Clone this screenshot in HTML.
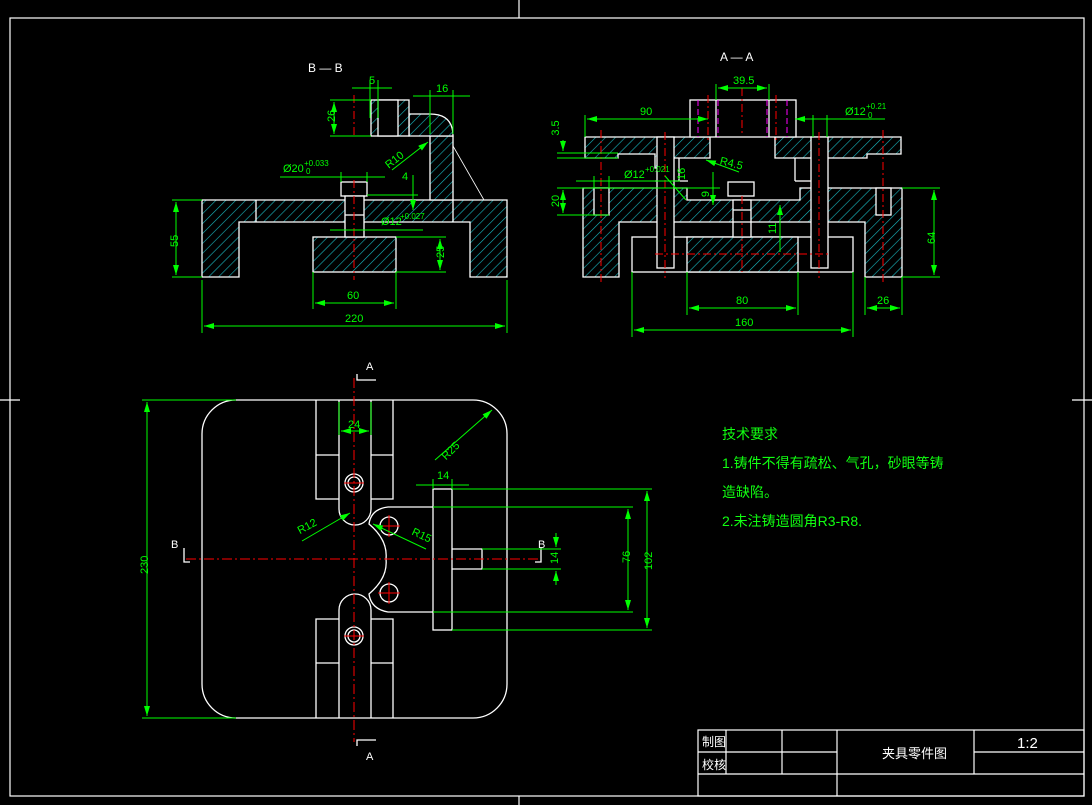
<!DOCTYPE html>
<html><head><meta charset="utf-8"><style>
html,body{margin:0;padding:0;background:#000;}
svg{display:block}
text{font-family:"Liberation Sans","Noto Sans CJK SC",sans-serif;}
</style></head><body>
<svg width="1092" height="805" viewBox="0 0 1092 805" xmlns="http://www.w3.org/2000/svg">
<defs>
<pattern id="h" width="7" height="7" patternUnits="userSpaceOnUse" patternTransform="rotate(45)">
<rect width="7" height="7" fill="#000"/><line x1="0" y1="0" x2="0" y2="7" stroke="#19b8c0" stroke-width="1.2"/>
</pattern>
<marker id="a" viewBox="0 0 10 6" refX="10" refY="3" markerWidth="10" markerHeight="6" orient="auto-start-reverse"><path d="M0,0L10,3L0,6z" fill="#0f0"/></marker>
</defs>
<rect width="1092" height="805" fill="#000"/>
<g stroke="#fff" stroke-width="1.2" fill="none">
<rect x="10" y="18" width="1074" height="778"/>
<line x1="519" y1="0" x2="519" y2="18"/><line x1="519" y1="796" x2="519" y2="805"/>
<line x1="0" y1="400" x2="20" y2="400"/><line x1="1072" y1="400" x2="1092" y2="400"/>
</g>
<g stroke="#fff" stroke-width="1.2" fill="none">
<rect x="698" y="730" width="386" height="66"/>
<line x1="698" y1="752" x2="837" y2="752"/><line x1="974" y1="752" x2="1084" y2="752"/>
<line x1="698" y1="774" x2="1084" y2="774"/>
<line x1="726" y1="730" x2="726" y2="774"/><line x1="782" y1="730" x2="782" y2="774"/>
<line x1="837" y1="730" x2="837" y2="796"/><line x1="974" y1="730" x2="974" y2="774"/>
</g>
<g fill="#fff" font-size="12">
<text x="702" y="746">制图</text><text x="702" y="769">校核</text>
<text x="882" y="758" font-size="13">夹具零件图</text>
<text x="1017" y="748" font-size="15">1:2</text>
</g>
<g fill="#1f1" font-size="14">
<text x="722" y="439">技术要求</text>
<text x="722" y="468">1.铸件不得有疏松、气孔，砂眼等铸</text>
<text x="722" y="497">造缺陷。</text>
<text x="722" y="526">2.未注铸造圆角R3-R8.</text>
</g>

<text x="308" y="72" fill="#fff" font-size="12">B — B</text>
<g stroke="#fff" stroke-width="1.3">
<path d="M202,200H507V277H470V222H239V277H202Z" fill="url(#h)"/>
<line x1="256" y1="200" x2="256" y2="222"/><line x1="453" y1="200" x2="453" y2="222"/>
<rect x="313" y="237" width="83" height="35" fill="url(#h)"/>
<rect x="430" y="136" width="23" height="64" fill="url(#h)"/>
<path d="M409,114H430Q453,114 453,136H409Z" fill="url(#h)"/>
<rect x="371" y="100" width="38" height="36" fill="url(#h)"/>
<rect x="378" y="100" width="20" height="36" fill="#000"/>
<rect x="341" y="182" width="26" height="14" fill="#000"/>
<rect x="345" y="196" width="19" height="41" fill="#000"/>
<line x1="345" y1="215" x2="364" y2="215"/>
<line x1="453" y1="146" x2="484" y2="200" stroke-width="0.8"/>
</g>
<line x1="354" y1="95" x2="354" y2="138" stroke="#f00" stroke-dasharray="8,3,2,3"/>
<line x1="354" y1="180" x2="354" y2="280" stroke="#f00" stroke-dasharray="8,3,2,3"/>
<g stroke="#0f0" stroke-width="1" fill="none">
<line x1="172" y1="200" x2="202" y2="200"/><line x1="172" y1="277" x2="202" y2="277"/>
<line x1="176" y1="202" x2="176" y2="275" marker-start="url(#a)" marker-end="url(#a)"/>
<line x1="202" y1="280" x2="202" y2="333"/><line x1="507" y1="280" x2="507" y2="333"/>
<line x1="204" y1="326" x2="505" y2="326" marker-start="url(#a)" marker-end="url(#a)"/>
<line x1="313" y1="272" x2="313" y2="309"/><line x1="396" y1="272" x2="396" y2="309"/>
<line x1="315" y1="303" x2="394" y2="303" marker-start="url(#a)" marker-end="url(#a)"/>
<line x1="396" y1="237" x2="446" y2="237"/><line x1="396" y1="272" x2="446" y2="272"/>
<line x1="440" y1="239" x2="440" y2="270" marker-start="url(#a)" marker-end="url(#a)"/>
<line x1="330" y1="100" x2="371" y2="100"/><line x1="330" y1="136" x2="371" y2="136"/>
<line x1="334" y1="102" x2="334" y2="134" marker-start="url(#a)" marker-end="url(#a)"/>
<line x1="352" y1="88" x2="392" y2="88"/><line x1="370" y1="80" x2="370" y2="118"/><line x1="378" y1="80" x2="378" y2="118"/>
<line x1="413" y1="96" x2="470" y2="96"/><line x1="430" y1="90" x2="430" y2="134"/><line x1="453" y1="90" x2="453" y2="134"/>
<line x1="392" y1="170" x2="428" y2="142" marker-end="url(#a)"/>
<line x1="280" y1="177" x2="385" y2="177"/><line x1="341" y1="172" x2="341" y2="182"/><line x1="367" y1="172" x2="367" y2="182"/>
<line x1="367" y1="195" x2="418" y2="195"/>
<line x1="413" y1="175" x2="413" y2="210" marker-end="url(#a)"/>
<line x1="330" y1="230" x2="423" y2="230"/>
</g>
<g fill="#0f0" font-size="11">
<text x="165" y="246" transform="rotate(-90 172 240)">55</text>
<text x="345" y="322">220</text><text x="347" y="299">60</text>
<text x="436" y="262" transform="rotate(-90 438 256)">25</text>
<text x="326" y="123" transform="rotate(-90 330 118)">26</text>
<text x="369" y="84">5</text><text x="436" y="92">16</text>
<text x="384" y="165" transform="rotate(-38 392 160)">R10</text>
<text x="283" y="172">Ø20</text><text x="304" y="166" font-size="8">+0.033</text><text x="306" y="174" font-size="8">0</text>
<text x="381" y="225">Ø12</text><text x="400" y="219" font-size="8">+0.027</text>
<text x="402" y="180">4</text>
</g>

<text x="720" y="61" fill="#fff" font-size="12">A — A</text>
<g stroke="#fff" stroke-width="1.3">
<path d="M583,188H687V200H800V188H902V277H865V222H619V277H583Z" fill="url(#h)"/>
<path d="M585,137H710V158H660V168H655V154H618V158H585Z" fill="url(#h)"/>
<path d="M775,137H901V154H867V158H775Z" fill="url(#h)"/>
<line x1="679" y1="158" x2="679" y2="181"/><line x1="655" y1="181" x2="688" y2="181"/>
<line x1="795" y1="158" x2="795" y2="181"/><line x1="795" y1="181" x2="811" y2="181"/>
<rect x="690" y="100" width="106" height="37" fill="#000"/>
<line x1="716" y1="100" x2="716" y2="137"/><line x1="769" y1="100" x2="769" y2="137"/>
<rect x="632" y="237" width="221" height="35" fill="#000"/>
<rect x="687" y="237" width="111" height="35" fill="url(#h)"/>
<rect x="657" y="137" width="17" height="131" fill="#000"/>
<rect x="811" y="137" width="17" height="131" fill="#000"/>
<rect x="594" y="188" width="15" height="27" fill="#000"/>
<rect x="876" y="188" width="15" height="27" fill="#000"/>
<rect x="728" y="182" width="26" height="14" fill="#000"/>
<rect x="733" y="200" width="18" height="37" fill="#000"/>
<line x1="733" y1="210" x2="751" y2="210"/><line x1="733" y1="222" x2="751" y2="222"/>
</g>
<g stroke="#f00" stroke-width="1" stroke-dasharray="8,3,2,3">
<line x1="601" y1="130" x2="601" y2="282"/><line x1="883" y1="130" x2="883" y2="282"/>
<line x1="665" y1="132" x2="665" y2="278"/><line x1="819" y1="132" x2="819" y2="278"/>
<line x1="742" y1="88" x2="742" y2="136"/><line x1="742" y1="196" x2="742" y2="272"/>
<line x1="708" y1="95" x2="708" y2="140"/><line x1="776" y1="95" x2="776" y2="140"/>
<line x1="655" y1="254" x2="830" y2="254"/>
</g>
<g stroke="#f0f" stroke-dasharray="6,3"><line x1="698" y1="100" x2="698" y2="137"/><line x1="718" y1="100" x2="718" y2="137"/><line x1="767" y1="100" x2="767" y2="137"/><line x1="787" y1="100" x2="787" y2="137"/></g>
<g stroke="#0f0" stroke-width="1" fill="none">
<line x1="902" y1="188" x2="940" y2="188"/><line x1="902" y1="277" x2="940" y2="277"/>
<line x1="934" y1="190" x2="934" y2="275" marker-start="url(#a)" marker-end="url(#a)"/>
<line x1="687" y1="272" x2="687" y2="315"/><line x1="798" y1="272" x2="798" y2="315"/>
<line x1="689" y1="308" x2="796" y2="308" marker-start="url(#a)" marker-end="url(#a)"/>
<line x1="632" y1="272" x2="632" y2="337"/><line x1="853" y1="272" x2="853" y2="337"/>
<line x1="634" y1="330" x2="851" y2="330" marker-start="url(#a)" marker-end="url(#a)"/>
<line x1="865" y1="277" x2="865" y2="315"/><line x1="902" y1="277" x2="902" y2="315"/>
<line x1="867" y1="308" x2="900" y2="308" marker-start="url(#a)" marker-end="url(#a)"/>
<line x1="716" y1="84" x2="716" y2="100"/><line x1="769" y1="84" x2="769" y2="100"/>
<line x1="718" y1="88" x2="767" y2="88" marker-start="url(#a)" marker-end="url(#a)"/>
<line x1="585" y1="115" x2="585" y2="137"/>
<line x1="587" y1="119" x2="708" y2="119" marker-start="url(#a)" marker-end="url(#a)"/>
<line x1="795" y1="119" x2="885" y2="119" marker-start="url(#a)"/>
<line x1="813" y1="115" x2="813" y2="137"/><line x1="827" y1="115" x2="827" y2="137"/>
<line x1="557" y1="153" x2="618" y2="153"/><line x1="557" y1="158" x2="618" y2="158"/>
<line x1="563" y1="140" x2="563" y2="151" marker-end="url(#a)"/>
<line x1="557" y1="188" x2="720" y2="188"/><line x1="557" y1="215" x2="609" y2="215"/>
<line x1="563" y1="190" x2="563" y2="213" marker-start="url(#a)" marker-end="url(#a)"/>
<line x1="576" y1="181" x2="680" y2="181"/><line x1="594" y1="176" x2="594" y2="188"/><line x1="609" y1="176" x2="609" y2="188"/>
<line x1="739" y1="172" x2="706" y2="160" marker-end="url(#a)"/>
<line x1="713" y1="172" x2="713" y2="205" marker-end="url(#a)"/>
<line x1="780" y1="205" x2="780" y2="252" marker-start="url(#a)"/>
<line x1="665" y1="176" x2="686" y2="200"/>
</g>
<g fill="#0f0" font-size="11">
<text x="917" y="238" transform="rotate(-90 929 232)">64</text>
<text x="736" y="304">80</text><text x="735" y="326">160</text><text x="877" y="304">26</text>
<text x="733" y="84">39.5</text><text x="640" y="115">90</text>
<text x="845" y="115">Ø12</text><text x="866" y="109" font-size="8">+0.21</text><text x="868" y="118" font-size="8">0</text>
<text x="559" y="128" text-anchor="middle" transform="rotate(-90 559 128)">3.5</text>
<text x="559" y="201" text-anchor="middle" transform="rotate(-90 559 201)">20</text>
<text x="624" y="178">Ø12</text><text x="645" y="172" font-size="8">+0.021</text>
<text x="720" y="166" transform="rotate(14 728 162)">R4.5</text>
<text x="709" y="194" text-anchor="middle" transform="rotate(-90 709 194)">9</text>
<text x="766" y="236" transform="rotate(-90 770 230)">11</text>
<text x="675" y="182" transform="rotate(-90 679 176)">16</text>
</g>

<g stroke="#fff" stroke-width="1.3" fill="none">
<rect x="202" y="400" width="305" height="318" rx="34"/>
<path d="M316,400V499H339M371,499H393V400M316,455H339M371,455H393"/>
<path d="M339,400V509A16,16 0 0 0 371,509V400"/>
<path d="M316,718V619H339M371,619H393V718M316,663H339M371,663H393"/>
<path d="M339,718V610A16,16 0 0 1 371,610V718"/>
<circle cx="354" cy="483" r="9"/><circle cx="354" cy="483" r="6"/>
<circle cx="354" cy="636" r="9"/><circle cx="354" cy="636" r="6"/>
<path d="M433,507H388Q371,509 369,524Q388,540 386,559Q388,578 369,594Q371,609 388,612H433"/>
<rect x="433" y="489" width="19" height="141"/>
<path d="M452,549H482V569H452"/>
<circle cx="389" cy="526" r="9"/><circle cx="389" cy="593" r="9"/>
<path d="M357,374V380H376M357,746V740H376M190,562H184V548M535,562H541V548"/>
</g>
<g stroke="#f00" stroke-width="1">
<line x1="354" y1="378" x2="354" y2="742" stroke-dasharray="10,3,2,3"/>
<line x1="186" y1="559" x2="540" y2="559" stroke-dasharray="10,3,2,3"/>
<line x1="344" y1="483" x2="364" y2="483"/><line x1="344" y1="636" x2="364" y2="636"/>
<line x1="378" y1="526" x2="400" y2="526"/><line x1="389" y1="515" x2="389" y2="537"/>
<line x1="378" y1="593" x2="400" y2="593"/><line x1="389" y1="582" x2="389" y2="604"/>
</g>
<g fill="#fff" font-size="11"><text x="366" y="370">A</text><text x="366" y="760">A</text><text x="171" y="548">B</text><text x="538" y="548">B</text></g>
<g stroke="#0f0" stroke-width="1" fill="none">
<line x1="142" y1="400" x2="236" y2="400"/><line x1="142" y1="718" x2="236" y2="718"/>
<line x1="147" y1="402" x2="147" y2="716" marker-start="url(#a)" marker-end="url(#a)"/>
<line x1="339" y1="402" x2="339" y2="435"/><line x1="371" y1="402" x2="371" y2="435"/>
<line x1="341" y1="431" x2="369" y2="431" marker-start="url(#a)" marker-end="url(#a)"/>
<line x1="416" y1="485" x2="469" y2="485"/><line x1="433" y1="479" x2="433" y2="489"/><line x1="452" y1="479" x2="452" y2="489"/>
<line x1="452" y1="489" x2="652" y2="489"/><line x1="452" y1="630" x2="652" y2="630"/>
<line x1="647" y1="491" x2="647" y2="628" marker-start="url(#a)" marker-end="url(#a)"/>
<line x1="433" y1="507" x2="633" y2="507"/><line x1="433" y1="612" x2="633" y2="612"/>
<line x1="628" y1="509" x2="628" y2="610" marker-start="url(#a)" marker-end="url(#a)"/>
<line x1="482" y1="549" x2="561" y2="549"/><line x1="482" y1="569" x2="561" y2="569"/>
<line x1="556" y1="533" x2="556" y2="547" marker-end="url(#a)"/><line x1="556" y1="585" x2="556" y2="571" marker-end="url(#a)"/>
<line x1="435" y1="460" x2="492" y2="410" marker-end="url(#a)"/>
<line x1="302" y1="541" x2="350" y2="513" marker-end="url(#a)"/>
<line x1="426" y1="549" x2="373" y2="524" marker-end="url(#a)"/>
</g>
<g fill="#0f0" font-size="11">
<text x="134" y="572" transform="rotate(-90 142 566)">230</text>
<text x="348" y="428">24</text><text x="437" y="479">14</text>
<text x="638" y="568" transform="rotate(-90 646 562)">102</text>
<text x="620" y="565" transform="rotate(-90 624 559)">76</text>
<text x="548" y="564" transform="rotate(-90 553 559)">14</text>
<text x="440" y="458" transform="rotate(-45 446 452)">R25</text>
<text x="297" y="531" transform="rotate(-28 305 527)">R12</text>
<text x="412" y="538" transform="rotate(25 420 534)">R15</text>
</g>
</svg>
</body></html>
